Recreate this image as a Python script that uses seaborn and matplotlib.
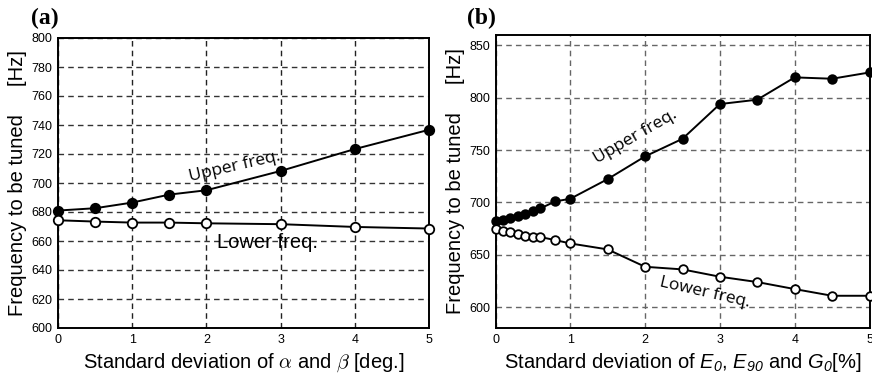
import numpy as np
import pandas as pd
import matplotlib
matplotlib.use("Agg")
import matplotlib.pyplot as plt
import seaborn as sns

# ---- data ----
x_a = [0, 0.5, 1, 1.5, 2, 3, 4, 5]
upper_a = [681, 682.6, 686.5, 692, 695, 708.3, 723.4, 736.7]
lower_a = [674.3, 673.4, 672.7, 672.7, 672.2, 671.6, 669.7, 668.6]

x_b = [0, 0.1, 0.2, 0.3, 0.4, 0.5, 0.6, 0.8, 1, 1.5, 2, 2.5, 3, 3.5, 4, 4.5, 5]
upper_b = [681.8, 683.1, 685, 687.3, 689.2, 691.7, 694.3, 701, 703.5, 722.3,
           744, 760.8, 794, 798.2, 819.5, 818.2, 824.2]
lower_b = [674.8, 672.6, 671.7, 670, 668.2, 666.9, 666.9, 664, 660.8, 655.1,
           638.5, 636, 629, 623.9, 617.2, 610.8, 610.8]

yticks_a = [600, 620, 640, 660, 680, 700, 720, 740, 760, 780, 800]
yticks_b = [600, 650, 700, 750, 800, 850]
xticks = [0, 1, 2, 3, 4, 5]

sns.set_style("white")
plt.rcParams['font.family'] = ['Liberation Sans', 'DejaVu Sans']
plt.rcParams['mathtext.fontset'] = 'custom'
plt.rcParams['mathtext.rm'] = 'Liberation Sans'
plt.rcParams['mathtext.it'] = 'Liberation Sans:italic'
plt.rcParams['mathtext.sf'] = 'Liberation Sans:italic'
plt.rcParams['mathtext.bf'] = 'Liberation Sans:bold'
plt.rcParams['text.color'] = 'black'

fig = plt.figure(figsize=(8.72, 3.74), dpi=100)
W, H = 872, 374


def add_ax(left, right, top, bottom):
    return fig.add_axes([left / W, 1 - bottom / H, (right - left) / W, (bottom - top) / H])


ax_a = add_ax(58, 429, 38, 328)
ax_b = add_ax(495.5, 869.5, 35, 328)

df_a = pd.DataFrame({"x": x_a, "upper": upper_a, "lower": lower_a})
df_b = pd.DataFrame({"x": x_b, "upper": upper_b, "lower": lower_b})


def draw(ax, df, ms, gridcol_v, gridcol_h):
    for col, fc in (("upper", "black"), ("lower", "white")):
        sns.lineplot(data=df, x="x", y=col, ax=ax, color="black", lw=1.4,
                     marker="o", markersize=ms, markerfacecolor=fc,
                     markeredgecolor="black", markeredgewidth=1.3,
                     clip_on=False, zorder=5, sort=False)
    ax.xaxis.grid(True, linestyle=(0, (4, 3)), color=gridcol_v, lw=1.0)
    ax.yaxis.grid(True, linestyle=(0, (4, 3)), color=gridcol_h, lw=1.0)
    ax.set_axisbelow(True)
    for s in ax.spines.values():
        s.set_visible(True)
        s.set_color("black")
        s.set_linewidth(1.4)
    ax.tick_params(axis="both", length=0, labelsize=9, pad=4, colors="black")
    ax.set_xlim(0, 5)
    ax.set_xticks(xticks)


draw(ax_a, df_a, 6.8, "#222222", "#333333")
ax_a.set_ylim(600, 800)
ax_a.set_yticks(yticks_a)

draw(ax_b, df_b, 6.2, "#666666", "#666666")
ax_b.set_ylim(580, 860)
ax_b.set_yticks(yticks_b)

ylab = "Frequency to be tuned     [Hz]"
ax_a.set_ylabel(ylab, fontsize=14.5, labelpad=3, color="black")
ax_b.set_ylabel(ylab, fontsize=14.5, labelpad=3, color="black")
ax_a.set_xlabel(r"Standard deviation of $\alpha$ and $\beta$ [deg.]",
                fontsize=14.5, labelpad=4, math_fontfamily="cm", color="black")
ax_b.set_xlabel(r"Standard deviation of $\mathsf{E_0}$, $\mathsf{E_{90}}$ and $\mathsf{G_0}$[%]",
                fontsize=14.5, labelpad=4, math_fontfamily="custom", color="black")

# annotations
ax_a.text(2.38, 711, "Upper freq.", fontsize=12.5, family="Open Sans",
          rotation=13, ha="center", va="center", color="black")
ax_a.text(2.83, 659, "Lower freq.", fontsize=14.5, family="Liberation Sans",
          ha="center", va="center", color="black")
ax_b.text(1.87, 763, "Upper freq.", fontsize=12.5, family="Open Sans",
          rotation=30, ha="center", va="center", color="black")
ax_b.text(2.8, 614, "Lower freq.", fontsize=12.5, family="Open Sans",
          rotation=-13, ha="center", va="center", color="black")

fig.text(31 / W, 1 - 24 / H, "(a)", fontsize=17, fontweight="bold",
         family="Liberation Serif", ha="left", va="baseline", color="black")
fig.text(467 / W, 1 - 24 / H, "(b)", fontsize=17, fontweight="bold",
         family="Liberation Serif", ha="left", va="baseline", color="black")

fig.savefig("out.png", dpi=100)
